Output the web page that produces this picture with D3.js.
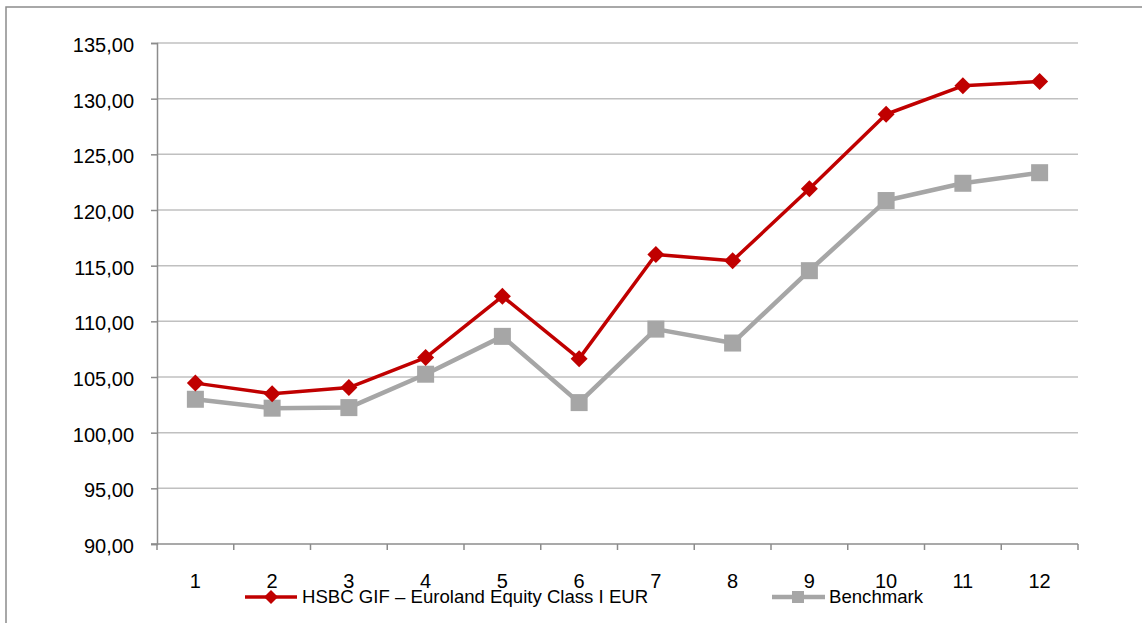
<!DOCTYPE html>
<html>
<head>
<meta charset="utf-8">
<script src="https://cdn.jsdelivr.net/npm/d3@7/dist/d3.min.js"></script>
<style>
  html, body { margin: 0; padding: 0; background: #fff; }
  svg { display: block; font-family: "Liberation Sans", Arial, sans-serif; }
</style>
</head>
<body>
<svg id="chart" width="1142" height="623"></svg>
<script>
const categories = ["1","2","3","4","5","6","7","8","9","10","11","12"];
const fundValues = [104.45, 103.5, 104.05, 106.75, 112.25, 106.65, 116.0, 115.45, 121.9, 128.6, 131.15, 131.55];
const benchValues = [103.0, 102.2, 102.25, 105.25, 108.65, 102.7, 109.3, 108.05, 114.55, 120.85, 122.4, 123.35];
const yTicks = [90, 95, 100, 105, 110, 115, 120, 125, 130, 135];
const seriesNames = ["HSBC GIF \u2013 Euroland Equity Class I EUR", "Benchmark"];

(function () {
const svg = d3.select("#chart");
const pLeft = 157, pRight = 1078, pTop = 43, pBottom = 544;

// outer frame
svg.append("rect").attr("x", 6).attr("y", 7).attr("width", 1200).attr("height", 700)
  .attr("fill", "none").attr("stroke", "#8c8c8c").attr("stroke-width", 1.5);

const x = d3.scaleBand().domain(categories).range([pLeft, pRight]).padding(0);
const y = d3.scaleLinear().domain([90, 135]).range([pBottom, pTop]);

// gridlines
svg.append("g").selectAll("line").data(yTicks.filter(d => d > 90)).join("line")
  .attr("x1", pLeft).attr("x2", pRight)
  .attr("y1", d => y(d)).attr("y2", d => y(d))
  .attr("stroke", "#c0c0c0").attr("stroke-width", 1.5);

// y axis
const fmt = d => d3.format(".2f")(d).replace(".", ",");
const yAxis = svg.append("g").attr("transform", `translate(${pLeft},0)`)
  .call(d3.axisLeft(y).tickValues(yTicks).tickFormat(fmt).tickSize(6).tickPadding(17));
yAxis.select(".domain").attr("stroke", "#8c8c8c").attr("stroke-width", 1.5);
yAxis.selectAll(".tick line").attr("stroke", "#8c8c8c").attr("stroke-width", 1.5);
yAxis.selectAll("text").attr("font-size", "20px").attr("fill", "#000").attr("dy", "0.42em")
  .attr("font-family", "'Liberation Sans', Arial, sans-serif");

// x axis line + ticks between categories
const xg = svg.append("g");
xg.append("line").attr("x1", pLeft - 6).attr("x2", pRight).attr("y1", pBottom).attr("y2", pBottom)
  .attr("stroke", "#8c8c8c").attr("stroke-width", 1.5);
const boundaries = categories.map(c => x(c)).concat([x(categories[categories.length - 1]) + x.bandwidth()]);
xg.selectAll("line.tk").data(boundaries).join("line").attr("class", "tk")
  .attr("x1", d => d).attr("x2", d => d).attr("y1", pBottom).attr("y2", pBottom + 6)
  .attr("stroke", "#8c8c8c").attr("stroke-width", 1.5);
xg.selectAll("text").data(categories).join("text")
  .attr("x", d => x(d) + x.bandwidth() / 2).attr("y", 588)
  .attr("text-anchor", "middle").attr("font-size", "20px").attr("fill", "#000")
  .text(d => d);

const cx = d => x(d) + x.bandwidth() / 2;
const line = d3.line().x(d => cx(d[0])).y(d => y(d[1]));

// benchmark
const benchData = categories.map((c, i) => [c, benchValues[i]]);
svg.append("path").datum(benchData).attr("d", line)
  .attr("fill", "none").attr("stroke", "#a6a6a6").attr("stroke-width", 4.5).attr("stroke-linejoin", "round");
const sq = 17;
svg.append("g").selectAll("rect").data(benchData).join("rect")
  .attr("x", d => cx(d[0]) - sq / 2).attr("y", d => y(d[1]) - sq / 2)
  .attr("width", sq).attr("height", sq).attr("fill", "#a6a6a6");

// fund
const fundData = categories.map((c, i) => [c, fundValues[i]]);
svg.append("path").datum(fundData).attr("d", line)
  .attr("fill", "none").attr("stroke", "#c00000").attr("stroke-width", 3.5).attr("stroke-linejoin", "round");
const dm = 8.5;
const diamond = (px, py) => `M${px},${py - dm}L${px + dm},${py}L${px},${py + dm}L${px - dm},${py}Z`;
svg.append("g").selectAll("path").data(fundData).join("path")
  .attr("d", d => diamond(cx(d[0]), y(d[1]))).attr("fill", "#c00000");

// legend
const lg = svg.append("g");
const ly = 597;
lg.append("line").attr("x1", 245).attr("x2", 297).attr("y1", ly).attr("y2", ly)
  .attr("stroke", "#c00000").attr("stroke-width", 3.5);
lg.append("path").attr("d", `M271,${ly - 7}L278,${ly}L271,${ly + 7}L264,${ly}Z`).attr("fill", "#c00000");
lg.append("text").attr("x", 302).attr("y", 603).attr("font-size", "18.6px").attr("fill", "#000").text(seriesNames[0]);

lg.append("line").attr("x1", 772).attr("x2", 825).attr("y1", ly).attr("y2", ly)
  .attr("stroke", "#a6a6a6").attr("stroke-width", 4.5);
lg.append("rect").attr("x", 792).attr("y", ly - 6).attr("width", 12).attr("height", 12).attr("fill", "#a6a6a6");
lg.append("text").attr("x", 829).attr("y", 603).attr("font-size", "18.6px").attr("fill", "#000").text(seriesNames[1]);
})();
</script>
</body>
</html>
